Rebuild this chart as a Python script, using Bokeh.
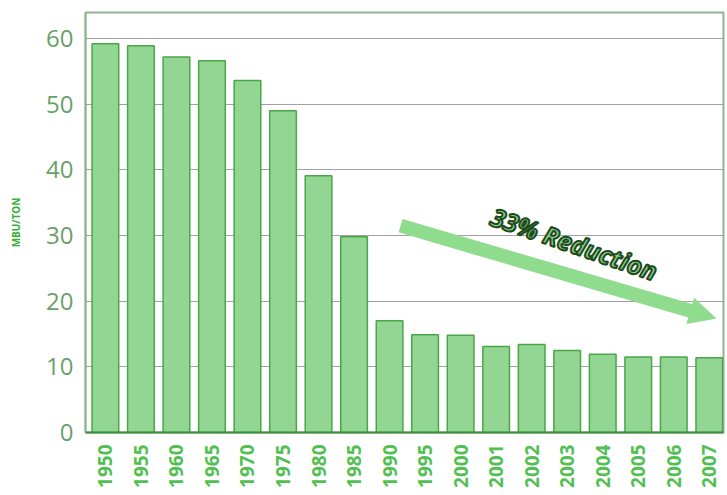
import math
from bokeh.plotting import figure
from bokeh.models import FixedTicker, Range1d, Arrow, NormalHead
from bokeh.core.properties import value
from bokeh.embed import file_html
from bokeh.resources import INLINE

years = ["1950", "1955", "1960", "1965", "1970", "1975", "1980", "1985", "1990",
         "1995", "2000", "2001", "2002", "2003", "2004", "2005", "2006", "2007"]
values = [59.2, 58.9, 57.2, 56.6, 53.6, 49.0, 39.1, 29.8, 17.0,
          14.9, 14.8, 13.1, 13.4, 12.5, 11.9, 11.5, 11.5, 11.4]
y_ticks = [0, 10, 20, 30, 40, 50, 60]
annotation_text = "33% Reduction"
y_label = "MBU/TON"

xs = list(range(len(years)))

p = figure(width=727, height=495, output_backend="svg", toolbar_location=None,
           x_range=Range1d(-0.56, 17.4), y_range=Range1d(0, 63.96),
           min_border_left=85, min_border_right=4, min_border_top=12, min_border_bottom=63,
           background_fill_color="white", border_fill_color="white")

p.vbar(x=xs, top=values, width=0.75, bottom=0,
       fill_color="#93d593", line_color="#49a649", line_width=1.5)

# axes
p.xaxis.ticker = FixedTicker(ticks=xs)
p.xaxis.major_label_overrides = {i: y for i, y in enumerate(years)}
p.xaxis.major_label_orientation = math.pi / 2
p.xaxis.major_label_text_font = "Open Sans"
p.xaxis.major_label_text_font_style = "bold"
p.xaxis.major_label_text_font_size = "19px"
p.xaxis.major_label_text_color = "#52bf52"
p.xaxis.major_label_standoff = 6
p.xaxis.major_tick_line_color = None
p.xaxis.minor_tick_line_color = None
p.xaxis.axis_line_color = "#3d8f3d"
p.xaxis.axis_line_width = 2

p.yaxis.ticker = FixedTicker(ticks=y_ticks)
p.yaxis.major_label_text_font = "Open Sans"
p.yaxis.major_label_text_font_size = "24px"
p.yaxis.major_label_text_color = "#6a9f6a"
p.yaxis.major_label_standoff = 6
p.yaxis.major_tick_line_color = None
p.yaxis.minor_tick_line_color = None
p.yaxis.axis_line_color = "#86b086"
p.yaxis.axis_line_width = 1.5
p.yaxis.axis_label = y_label
p.yaxis.axis_label_text_font = "Open Sans"
p.yaxis.axis_label_text_font_style = "bold"
p.yaxis.axis_label_text_font_size = "10px"
p.yaxis.axis_label_text_color = "#35b035"
p.yaxis.axis_label_standoff = 20

p.xgrid.grid_line_color = None
p.ygrid.ticker = FixedTicker(ticks=y_ticks)
p.ygrid.grid_line_color = "#8a8a8a"
p.ygrid.grid_line_alpha = 0.8
p.ygrid.grid_line_width = 1

p.outline_line_color = "#8fb38f"
p.outline_line_width = 2

# reduction arrow: from the 1990 bar area down to the 2007 bar
i1990 = years.index("1990")
i2007 = years.index("2007")
arrow = Arrow(x_start=i1990 + 0.31, y_start=31.5, x_end=i2007 + 0.18, y_end=17.4,
              line_color="#8fdc8f", line_width=14,
              end=NormalHead(size=26, fill_color="#8fdc8f", line_color="#8fdc8f"))
p.add_layout(arrow)

p.text(x=[13.2], y=[28.8], text=[annotation_text], angle=-0.33,
       text_font=value("Open Sans"), text_font_style="bold italic",
       text_font_size="25px", text_color="#86d486",
       text_outline_color="#1e4a1e",
       text_align="center", text_baseline="middle")

open("out.html", "w").write(file_html(p, INLINE))
